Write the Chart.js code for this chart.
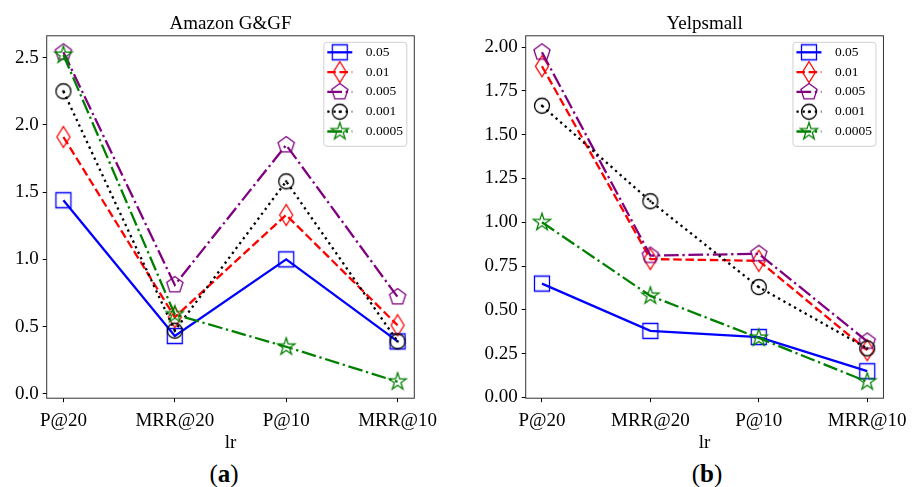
<!DOCTYPE html>
<html>
<head>
<meta charset="utf-8">
<script src="https://cdn.jsdelivr.net/npm/chart.js@4.4.0/dist/chart.umd.min.js"></script>
<style>
  body { margin: 0; width: 915px; height: 487px; background: #fff; position: relative; overflow: hidden; }
  .box { position: absolute; top: 0; }
  .cap { position: absolute; top: 460px; width: 60px; text-align: center; font-family: "Liberation Serif", serif; font-size: 25px; }
</style>
</head>
<body>
<div class="box" style="left:0"><canvas id="chartA" width="460" height="453"></canvas></div>
<div class="box" style="left:460px"><canvas id="chartB" width="455" height="453"></canvas></div>
<div class="cap" style="left:194px">(<b>a</b>)</div>
<div class="cap" style="left:677px">(<b>b</b>)</div>

<script>
// x categories and legend labels
const categories = ["P@20", "MRR@20", "P@10", "MRR@10"];
const lrLabels = ["0.05", "0.01", "0.005", "0.001", "0.0005"];

// Amazon G&GF
const amazon005 = [1.44, 0.43, 1.00, 0.39];
const amazon001 = [1.91, 0.57, 1.33, 0.51];
const amazon0005 = [2.54, 0.81, 1.85, 0.72];
const amazon0001 = [2.25, 0.47, 1.58, 0.39];
const amazon00005 = [2.52, 0.59, 0.35, 0.09];
const amazonTicks = [0.0, 0.5, 1.0, 1.5, 2.0, 2.5];

// Yelpsmall
const yelp005 = [0.65, 0.38, 0.345, 0.15];
const yelp001 = [1.89, 0.79, 0.78, 0.27];
const yelp0005 = [1.97, 0.81, 0.82, 0.32];
const yelp0001 = [1.665, 1.12, 0.63, 0.28];
const yelp00005 = [1.00, 0.58, 0.34, 0.09];
const yelpTicks = [0.0, 0.25, 0.5, 0.75, 1.0, 1.25, 1.5, 1.75, 2.0];

Chart.defaults.font.family = '"Liberation Serif", serif';
Chart.defaults.color = "#000";

// hollow matplotlib-like markers drawn on small canvases
function marker(shape, color) {
    const c = document.createElement("canvas");
    c.width = 24;
    c.height = 24;
    const g = c.getContext("2d");
    g.strokeStyle = color;
    g.fillStyle = color;
    g.lineWidth = 1.3;
    g.translate(12, 12);
    g.beginPath();
    if (shape === "square") {
        g.rect(-7.5, -7.5, 15, 15);
    } else if (shape === "diamond") {
        g.moveTo(0, -10.5);
        g.lineTo(6.5, 0);
        g.lineTo(0, 10.5);
        g.lineTo(-6.5, 0);
        g.closePath();
    } else if (shape === "pentagon") {
        for (let k = 0; k < 5; k++) {
            const a = (-90 + 72 * k) * Math.PI / 180;
            g.lineTo(8.5 * Math.cos(a), 8.5 * Math.sin(a));
        }
        g.closePath();
    } else if (shape === "star") {
        for (let k = 0; k < 10; k++) {
            const a = (-90 + 36 * k) * Math.PI / 180;
            const r = k % 2 === 0 ? 9 : 9 * 0.382;
            g.lineTo(r * Math.cos(a), r * Math.sin(a));
        }
        g.closePath();
    } else if (shape === "odot") {
        g.arc(0, 0, 7.5, 0, Math.PI * 2);
        g.stroke();
        g.beginPath();
        g.arc(0, 0, 1.3, 0, Math.PI * 2);
        g.fill();
        return c;
    }
    g.stroke();
    return c;
}

const styles = [
    { color: "#0000ff", dash: [], shape: "square" },
    { color: "#ff0000", dash: [8.5, 3.7], shape: "diamond" },
    { color: "#800080", dash: [14.7, 3.7, 2.3, 3.7], shape: "pentagon" },
    { color: "#000000", dash: [2.3, 3.8], shape: "odot" },
    { color: "#008000", dash: [14.7, 3.7, 2.3, 3.7], shape: "star" },
];

// axes frame + matplotlib style legend box
const framePlugin = {
    id: "frame",
    afterDatasetsDraw(chart) {
        const ctx = chart.ctx;
        const a = chart.chartArea;
        ctx.save();
        ctx.strokeStyle = "#333";
        ctx.lineWidth = 1;
        ctx.strokeRect(a.left, a.top, a.right - a.left, a.bottom - a.top);

        const w = 83, h = 104;
        const x0 = a.right - 7.5 - w;
        const y0 = a.top + 6.5;
        ctx.fillStyle = "rgba(255,255,255,0.85)";
        ctx.strokeStyle = "#d0d0d0";
        ctx.beginPath();
        ctx.roundRect(x0, y0, w, h, 3);
        ctx.fill();
        ctx.stroke();

        chart.data.datasets.forEach((ds, i) => {
            const y = y0 + 10 + i * 19.8;
            ctx.setLineDash(ds.borderDash);
            ctx.strokeStyle = ds.borderColor;
            ctx.lineWidth = ds.borderWidth;
            ctx.beginPath();
            ctx.moveTo(x0 + 3.5, y);
            ctx.lineTo(x0 + 28.5, y);
            ctx.stroke();
            ctx.setLineDash([]);
            const img = ds.pointStyle;
            ctx.drawImage(img, x0 + 16 - img.width / 2, y - img.height / 2);
            ctx.fillStyle = "#000";
            ctx.font = '13.5px "Liberation Serif", serif';
            ctx.textBaseline = "middle";
            ctx.fillText(ds.label, x0 + 42, y);
        });
        ctx.restore();
    },
};

function makeChart(id, title, series, yTicks, yMin, yMax, decimals, yWidth, padRight) {
    const datasets = series.map((values, i) => ({
        label: lrLabels[i],
        data: values.map((v, j) => ({ x: j, y: v })),
        borderColor: styles[i].color,
        borderDash: styles[i].dash,
        borderWidth: 2.3,
        borderCapStyle: "butt",
        pointStyle: marker(styles[i].shape, styles[i].color),
        pointRadius: 8,
        tension: 0,
        fill: false,
        order: series.length - i,
    }));

    return new Chart(document.getElementById(id), {
        type: "line",
        data: { datasets },
        options: {
            responsive: false,
            animation: false,
            layout: { padding: { left: 0, right: padRight, top: 0, bottom: 0 } },
            plugins: {
                legend: { display: false },
                tooltip: { enabled: false },
                title: {
                    display: true,
                    text: title,
                    fullSize: false,
                    font: { size: 19, weight: "normal" },
                    color: "#000",
                    padding: { top: 13, bottom: 0 },
                },
            },
            scales: {
                x: {
                    type: "linear",
                    min: -0.15,
                    max: 3.15,
                    afterBuildTicks: (ax) => { ax.ticks = categories.map((c, i) => ({ value: i })); },
                    ticks: {
                        callback: (v) => categories[v],
                        font: { size: 19 },
                        color: "#000",
                        padding: 7,
                        maxRotation: 0,
                        autoSkip: false,
                    },
                    grid: { drawOnChartArea: false, tickLength: 4, color: "#000" },
                    border: { display: false },
                    title: {
                        display: true,
                        text: "lr",
                        font: { size: 19, lineHeight: 1.0 },
                        color: "#000",
                        padding: { top: -5, bottom: 0 },
                    },
                },
                y: {
                    min: yMin,
                    max: yMax,
                    afterBuildTicks: (ax) => { ax.ticks = yTicks.map((v) => ({ value: v })); },
                    afterFit: (ax) => { ax.width = yWidth; },
                    ticks: {
                        callback: (v) => v.toFixed(decimals),
                        font: { size: 19 },
                        color: "#000",
                        padding: 4,
                    },
                    grid: { drawOnChartArea: false, tickLength: 4, color: "#000" },
                    border: { display: false },
                },
            },
        },
        plugins: [framePlugin],
    });
}

makeChart("chartA", "Amazon G&GF",
    [amazon005, amazon001, amazon0005, amazon0001, amazon00005],
    amazonTicks, -0.0325, 2.6625, 1, 46.7, 45.7);

makeChart("chartB", "Yelpsmall",
    [yelp005, yelp001, yelp0005, yelp0001, yelp00005],
    yelpTicks, -0.004, 2.064, 2, 65.7, 23.3);
</script>
</body>
</html>
